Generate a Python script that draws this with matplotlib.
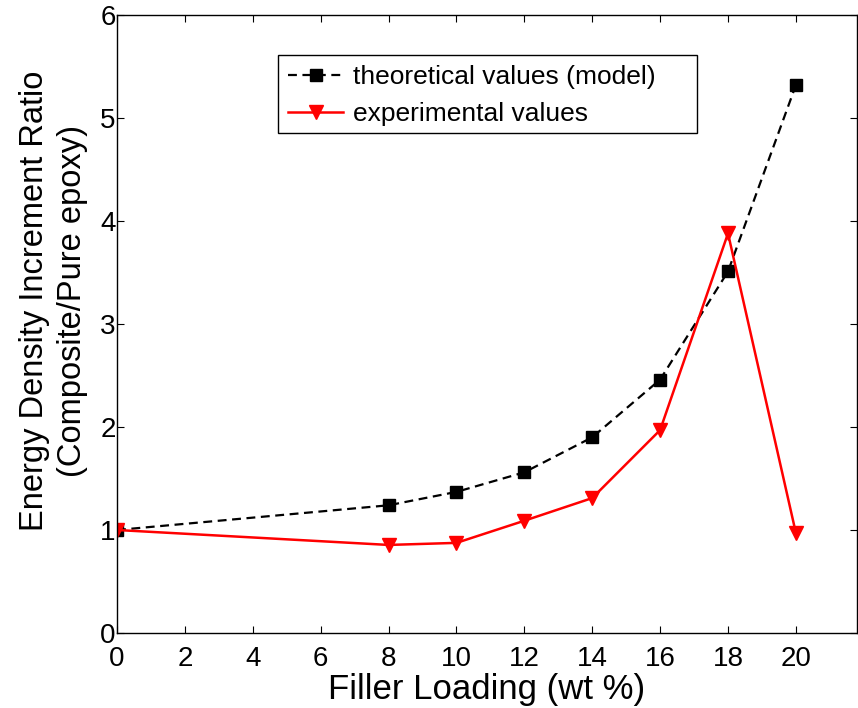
import matplotlib
matplotlib.use("Agg")
import matplotlib.pyplot as plt
from matplotlib.patches import Rectangle

plt.rcParams['font.family'] = ['Liberation Sans', 'DejaVu Sans']

filler = [0, 8, 10, 12, 14, 16, 18, 20]
theoretical = [1.0, 1.24, 1.37, 1.56, 1.90, 2.46, 3.51, 5.32]
experimental = [1.0, 0.855, 0.875, 1.09, 1.31, 1.97, 3.88, 0.97]
x_ticks = [0, 2, 4, 6, 8, 10, 12, 14, 16, 18, 20]
y_ticks = [0, 1, 2, 3, 4, 5, 6]

fig = plt.figure(figsize=(8.58, 7.08), dpi=100)
ax = fig.add_axes([117/858, 75/708, 740/858, 618/708])

ax.plot(filler, theoretical, color='black', linestyle='--', linewidth=1.6,
        dashes=(4, 2.5), marker='s', markersize=9,
        label='theoretical values (model)')
ax.plot(filler, experimental, color='red', linestyle='-', linewidth=1.8,
        marker='v', markersize=10.5, label='experimental values')

ax.set_xlim(0, 21.8)
ax.set_ylim(0, 6)
ax.set_xticks(x_ticks)
ax.set_yticks(y_ticks)
ax.tick_params(direction='in', length=5, width=0.8, labelsize=20,
               top=True, right=True)
ax.tick_params(axis='x', pad=9)
ax.tick_params(axis='y', pad=1)
for s in ax.spines.values():
    s.set_linewidth(1.0)

ax.set_xlabel('Filler Loading (wt %)', fontsize=25, labelpad=1)
ax.set_ylabel('Energy Density Increment Ratio\n(Composite/Pure epoxy)',
              fontsize=23.5, linespacing=1.3)
ax.yaxis.set_label_coords(-29/740, 0.537)

# legend box drawn separately so it can be wider than its entries
ax.add_patch(Rectangle((161/740, 1 - 118/618), 419/740, 78/618,
                       transform=ax.transAxes, facecolor='white',
                       edgecolor='black', linewidth=1.0, zorder=4))
leg = ax.legend(loc='upper left', bbox_to_anchor=(161/740, 1 - 40/618),
                fontsize=19, frameon=False, handlelength=2.1,
                borderpad=0.38, labelspacing=0.5, handletextpad=0.35,
                borderaxespad=0)
leg.set_zorder(5)

fig.savefig('out.png', dpi=100)
